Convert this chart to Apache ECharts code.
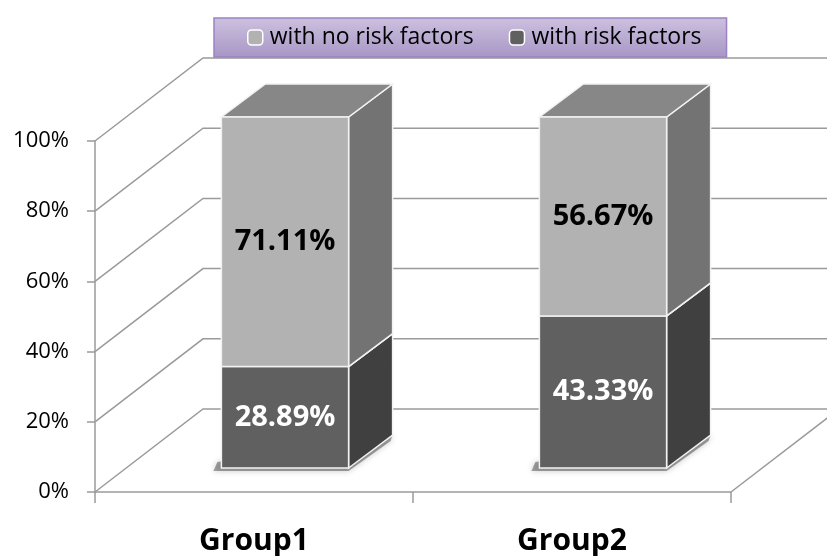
<!DOCTYPE html>
<html>
<head>
<meta charset="utf-8">
<script src="https://cdn.jsdelivr.net/npm/echarts@6/dist/echarts.min.js"></script>
<style>
  html, body { margin: 0; padding: 0; background: #fff; }
  #chart { width: 827px; height: 556px; }
</style>
</head>
<body>
<div id="chart"></div>
<script>
var categories = ["Group1", "Group2"];
var withRisk = [28.89, 43.33];
var withoutRisk = [71.11, 56.67];
var yTicks = [0, 20, 40, 60, 80, 100];

// fake 3d offsets
var WALL_DX = 108, WALL_DY = -83;
var BAR_DX = 31, BAR_DY = -24;
var DEPTH_DX = 44, DEPTH_DY = -33;
var BAR_RATIO = 0.4;
var FONT = "'Open Sans', 'DejaVu Sans', sans-serif";

var chartDom = document.getElementById("chart");
var myChart = echarts.init(chartDom);

function renderWall(params, api) {
  var cs = params.coordSys;
  var v = api.value(1);
  var y = api.coord([0, v])[1];
  var lineStyle = { stroke: "#9a9a9a", lineWidth: 1.5, fill: null };
  var children = [
    {
      type: "polyline",
      shape: { points: [[cs.x, y], [cs.x + WALL_DX, y + WALL_DY], [api.getWidth(), y + WALL_DY]] },
      style: lineStyle,
    },
  ];
  if (v === 0) {
    children.push({
      type: "line",
      shape: { x1: cs.x + cs.width, y1: y, x2: cs.x + cs.width + WALL_DX, y2: y + WALL_DY },
      style: lineStyle,
    });
  }
  return { type: "group", children: children };
}

function makeBar(colors, textColor, shadow) {
  return function (params, api) {
    var bw = api.size([1, 0])[0] * BAR_RATIO;
    var c0 = api.coord([api.value(0), api.value(1)]);
    var c1 = api.coord([api.value(0), api.value(2)]);
    var xL = c0[0] - bw / 2 + BAR_DX;
    var xR = xL + bw;
    var yB = c0[1] + BAR_DY;
    var yT = c1[1] + BAR_DY;
    var edge = { stroke: "#f2f2f2", lineWidth: 1.5 };
    var children = [];
    if (shadow) {
      // soft shadow on the floor under the bar
      children.push({
        type: "polygon",
        shape: { points: [[xL - 4, yB - 6], [xR + DEPTH_DX, yB + DEPTH_DY], [xR + DEPTH_DX - 2, yB + DEPTH_DY + 6], [xR, yB + 3], [xL - 8, yB + 3]] },
        style: { fill: "rgba(0,0,0,0.35)", shadowBlur: 6, shadowColor: "rgba(0,0,0,0.6)" },
      });
    }
    children.push(
      {
        type: "polygon",
        shape: { points: [[xR, yB], [xR + DEPTH_DX, yB + DEPTH_DY], [xR + DEPTH_DX, yT + DEPTH_DY], [xR, yT]] },
        style: Object.assign({ fill: colors.side }, edge),
      },
      {
        type: "polygon",
        shape: { points: [[xL, yT], [xR, yT], [xR + DEPTH_DX, yT + DEPTH_DY], [xL + DEPTH_DX, yT + DEPTH_DY]] },
        style: Object.assign({ fill: colors.top }, edge),
      },
      {
        type: "rect",
        shape: { x: xL, y: yT, width: bw, height: yB - yT },
        style: Object.assign({ fill: colors.front }, edge),
      },
      {
        type: "text",
        style: {
          text: api.value(3).toFixed(2) + "%",
          x: (xL + xR) / 2,
          y: (yT + yB) / 2,
          align: "center",
          verticalAlign: "middle",
          fill: textColor,
          font: "bold 29px " + FONT,
        },
      }
    );
    return { type: "group", children: children };
  };
}

var riskData = categories.map(function (c, i) {
  return [i, 0, withRisk[i], withRisk[i]];
});
var noRiskData = categories.map(function (c, i) {
  return [i, withRisk[i], withRisk[i] + withoutRisk[i], withoutRisk[i]];
});

var option = {
  animation: false,
  legend: {
    data: ["with no risk factors", "with risk factors"],
    left: 214,
    top: 18,
    padding: [8, 25, 8, 33],
    itemGap: 35,
    itemWidth: 15,
    itemHeight: 15,
    backgroundColor: new echarts.graphic.LinearGradient(0, 0, 0, 1, [
      { offset: 0, color: "#cdc1df" },
      { offset: 1, color: "#a796c5" },
    ]),
    borderColor: "#9c82c4",
    borderWidth: 1.5,
    itemStyle: { borderColor: "#ffffff", borderWidth: 1.5 },
    textStyle: { fontFamily: FONT, fontSize: 23, color: "#000", padding: [0, 0, 0, 2] },
  },
  grid: { left: 95, right: 96, top: 141, bottom: 63 },
  xAxis: {
    type: "category",
    data: categories,
    axisLine: { lineStyle: { color: "#9a9a9a", width: 1.5 } },
    axisTick: { show: true, length: 11, lineStyle: { color: "#9a9a9a", width: 1.5 } },
    axisLabel: { margin: 34, fontFamily: FONT, fontSize: 30, fontWeight: "bold", color: "#000" },
  },
  yAxis: {
    type: "value",
    min: 0,
    max: 100,
    interval: 20,
    axisLine: { show: true, lineStyle: { color: "#9a9a9a", width: 1.5 } },
    axisTick: { show: true, length: 8, lineStyle: { color: "#9a9a9a", width: 1.5 } },
    splitLine: { show: false },
    axisLabel: { margin: 26, formatter: "{value}%", fontFamily: FONT, fontSize: 22, color: "#000" },
  },
  series: [
    {
      type: "custom",
      silent: true,
      z: 1,
      renderItem: renderWall,
      encode: { x: 0, y: 1 },
      data: yTicks.map(function (v) {
        return [0, v];
      }),
    },
    {
      name: "with no risk factors",
      type: "custom",
      z: 4,
      itemStyle: { color: "#b2b2b2" },
      renderItem: makeBar({ front: "#b2b2b2", side: "#737373", top: "#878787" }, "#000", false),
      encode: { x: 0, y: [1, 2] },
      data: noRiskData,
    },
    {
      name: "with risk factors",
      type: "custom",
      z: 3,
      itemStyle: { color: "#606060" },
      renderItem: makeBar({ front: "#606060", side: "#404040", top: "#555555" }, "#fff", true),
      encode: { x: 0, y: [1, 2] },
      data: riskData,
    },
  ],
};

myChart.setOption(option);
window.addEventListener("resize", myChart.resize);
</script>
</body>
</html>
